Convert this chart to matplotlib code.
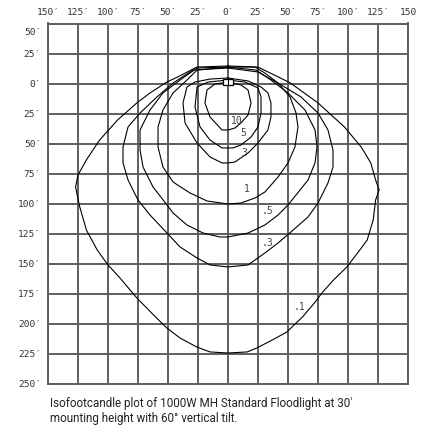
import matplotlib
matplotlib.use("Agg")
import matplotlib.pyplot as plt
import matplotlib.transforms as mtransforms
import numpy as np
from matplotlib.patches import Rectangle

# isofootcandle contours, feet (x: across, y: + behind fixture, - in front)
fc10_x = [0, 10.8, 16.7, 19.2, 16.7, 10.8, 5.8, 0, -5, -15, -19.2, -17.5, -10.8, 0]
fc10_y = [1.2, -1.2, -5.4, -16.2, -26.2, -32.9, -37.1, -38.7, -38.7, -27.9, -16.2, -5.4, -0.4, 1.2]

fc5_x = [0, 14.2, 25, 27.5, 27.5, 25, 19.2, 10.8, 4.2, 0, -5, -15, -23.3, -27.5, -25.8, -16.7, 0]
fc5_y = [2.9, 1.2, -3.7, -11.2, -24.6, -36.2, -44.6, -51.2, -53.7, -53.7, -53.7, -47.1, -36.2, -19.6, -2.9, 1.2, 2.9]

fc3_x = [0, 16.7, 27.5, 33.3, 35.8, 35.8, 33.3, 25, 16.7, 5.8, 0, -5, -15, -25.8, -35.8, -37.5, -34.2, -27.5, -15, 0]
fc3_y = [4.6, 2.1, -2.9, -7.9, -16.2, -27.9, -38.7, -49.6, -57.9, -65.4, -66.2, -66.2, -61.2, -49.6, -32.9, -16.2, -2.9, 1.2, 3.7, 4.6]

fc1_x = [0, 22.5, 30.8, 41.7, 51.7, 56.7, 58.3, 55.8, 50, 41.7, 30.8, 22.5, 10.8, 0,
         -17.5, -31.7, -45.8, -54.2, -58.3, -58.3, -54.2, -45.8, -34.2, -25.8, 0]
fc1_y = [13.7, 13.7, 8.7, 0.4, -11.2, -24.6, -36.2, -52.9, -66.2, -77.9, -90.4, -95.4, -99.6, -100.4,
         -97.9, -91.2, -82.1, -69.6, -52.9, -36.2, -22.1, -7.9, 2.9, 11.2, 13.7]

fc05_x = [0, 23.3, 35.8, 50, 64.2, 72.5, 74.2, 72.5, 66.7, 56.7, 50, 41.7, 30.8, 16.7, 0,
          -6.7, -20.8, -34.2, -45.8, -50.8, -62.5, -70.8, -73.3, -73.3, -65, -54.2, -40, -25.8, 0]
fc05_y = [13.7, 11.2, 2.9, -7.9, -22.1, -38.7, -52.9, -66.2, -80.4, -92.9, -101.2, -109.6, -117.9, -124.6, -127.9,
          -127.9, -124.6, -117.9, -107.9, -101.2, -86.2, -69.6, -55.4, -38.7, -22.1, -7.9, 2.9, 12.9, 13.7]

fc03_x = [0, 25, 41.7, 60.8, 75, 83.3, 87.5, 87.5, 83.3, 75, 66.7, 52.5, 41.7, 30.8, 16.7, 0,
          -15, -25.8, -40, -50.8, -65, -75, -83.3, -87.5, -87.5, -83.3, -73.3, -59.2, -45.8, -29.2, 0]
fc03_y = [12.9, 9.6, 0.4, -11.2, -24.6, -38.7, -55.4, -69.6, -82.9, -99.6, -111.2, -123.7, -132.9, -141.2, -151.2, -152.9,
          -151.2, -145.4, -136.2, -124.6, -109.6, -97.1, -80.4, -66.2, -52.9, -36.2, -24.6, -11.2, 0.4, 11.2, 12.9]

fc01_x = [0, 25, 42, 52, 75, 97, 111, 119, 123, 126, 123, 121, 116, 108, 99, 88, 79, 72, 62, 49, 37, 24, 16, 0,
          -15, -26, -40, -51, -62, -76, -90, -100, -109, -118, -124, -127, -125, -118, -107, -92, -76, -65, -51, -42, -26, 0]
fc01_y = [14.6, 13.7, 5.4, 0.4, -16.2, -36.2, -52.9, -66.2, -80.4, -88.7, -97.1, -113.7, -130.4, -141.2, -152.9, -163.7,
          -173.7, -182.9, -194.6, -207.1, -213.7, -220.4, -223.7, -224.6,
          -223.7, -219.6, -212.1, -203.7, -192.9, -178.7, -162.1, -151.2, -138.7, -122.1, -101.2, -86.2, -76.2, -63.7,
          -47.1, -30.4, -16.2, -7.9, 1.2, 5.4, 13.7, 14.6]

contours = [(fc10_x, fc10_y), (fc5_x, fc5_y), (fc3_x, fc3_y), (fc1_x, fc1_y),
            (fc05_x, fc05_y), (fc03_x, fc03_y), (fc01_x, fc01_y)]

level_labels = ["10", "5", "3", "1", ".5", ".3", ".1"]
label_x = [7, 13, 13.5, 16, 33, 32.5, 60]
label_y = [-31, -41, -57.5, -88, -106, -133, -186]

grid_x = np.arange(-150, 151, 25)
grid_y = np.arange(-250, 51, 25)
xtick_labels = ["150\u2032", "125\u2032", "100\u2032", "75\u2032", "50\u2032", "25\u2032", "0\u2032",
                "25\u2032", "50\u2032", "75\u2032", "100\u2032", "125\u2032", "150"]
ytick_labels = ["%d\u2032" % abs(v) for v in grid_y]

caption = ("Isofootcandle plot of 1000W MH Standard Floodlight at 30'\n"
           "mounting height with 60\u00b0 vertical tilt.")

fig = plt.figure(figsize=(4.24, 4.32), dpi=100)
ax = fig.add_axes([48 / 424, 48.5 / 432, 360 / 424, 360 / 432])
ax.set_xlim(-150, 150)
ax.set_ylim(-250, 50)

gcol = "#5e5e5e"
ax.set_xticks(grid_x)
ax.set_yticks(grid_y)
ax.grid(True, color=gcol, lw=1.4)
for sp in ax.spines.values():
    sp.set_color(gcol)
    sp.set_linewidth(1.4)

ax.xaxis.tick_top()
ax.set_xticklabels(xtick_labels)
ax.set_yticklabels(ytick_labels)
ax.tick_params(length=0, labelsize=6.8, labelcolor="#333333", pad=5)
for lab in ax.get_xticklabels() + ax.get_yticklabels():
    lab.set_family("DejaVu Sans Mono")

# top label sits a bit below its gridline
top_lab = ax.get_yticklabels()[-1]
top_lab.set_transform(top_lab.get_transform() +
                      mtransforms.ScaledTranslation(0, -6 / 72, fig.dpi_scale_trans))

for (cx, cy) in contours:
    ax.plot(cx, cy, color="black", lw=0.8, zorder=3)

for s, lx, ly in zip(level_labels, label_x, label_y):
    ax.text(lx, ly, s, fontsize=7, family="DejaVu Sans Mono", color="#444444",
            ha="center", va="center", zorder=4)

# fixture
ax.add_patch(Rectangle((-4.2, -1.3), 8.4, 5, facecolor="white", edgecolor="black", lw=0.9, zorder=5))
ax.plot([0, 0], [-1.3, 3.7], color="black", lw=0.8, zorder=6)

fig.text(50 / 424, 1 - 397 / 432, caption, family=["Roboto", "DejaVu Sans"],
         fontsize=8.4, color="#222222", ha="left", va="top", linespacing=1.2)

fig.savefig("out.png", dpi=100)
